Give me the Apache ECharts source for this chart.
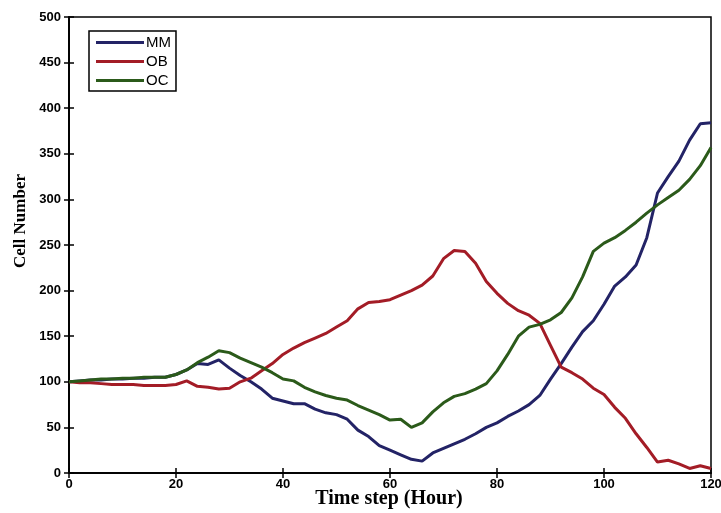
<!DOCTYPE html>
<html>
<head>
<meta charset="utf-8">
<script src="https://cdn.jsdelivr.net/npm/echarts@6/dist/echarts.min.js"></script>
<style>
  html, body { margin: 0; padding: 0; background: #fff; }
  #chart { width: 721px; height: 513px; }
</style>
</head>
<body>
<div id="chart"></div>
<script>
// time axis, every 2 hours
const hours = [0, 2, 4, 6, 8, 10, 12, 14, 16, 18, 20, 22, 24, 26, 28, 30, 32, 34, 36, 38,
  40, 42, 44, 46, 48, 50, 52, 54, 56, 58, 60, 62, 64, 66, 68, 70, 72, 74, 76, 78,
  80, 82, 84, 86, 88, 90, 92, 94, 96, 98, 100, 102, 104, 106, 108, 110, 112, 114, 116, 118, 120]

const mm = [100, 101, 102, 102, 103, 103, 104, 104, 105, 105, 108, 113, 120, 119, 124, 115, 107, 100, 92, 82,
  79, 76, 76, 70, 66, 64, 59, 47, 40, 30, 25, 20, 15, 13, 22, 27, 32, 37, 43, 50,
  55, 62, 68, 75, 85, 103, 120, 138, 155, 167, 185, 205, 215, 228, 258, 307, 325, 342, 365, 383, 384]

const ob = [100, 99, 99, 98, 97, 97, 97, 96, 96, 96, 97, 101, 95, 94, 92, 93, 100, 104, 112, 120,
  130, 137, 143, 148, 153, 160, 167, 180, 187, 188, 190, 195, 200, 206, 216, 235, 244, 243, 230, 210,
  197, 186, 178, 173, 164, 140, 116, 110, 103, 93, 86, 72, 60, 43, 28, 12, 14, 10, 5, 8, 5]

const oc = [100, 101, 102, 103, 103, 104, 104, 105, 105, 105, 108, 113, 121, 127, 134, 132, 126, 121, 116, 110,
  103, 101, 94, 89, 85, 82, 80, 74, 69, 64, 58, 59, 50, 55, 67, 77, 84, 87, 92, 98,
  112, 130, 150, 160, 163, 168, 176, 192, 215, 243, 252, 258, 266, 275, 285, 294, 302, 310, 322, 337, 357]

const seriesNames = ['MM', 'OB', 'OC']
const seriesColors = ['#232366', '#a31c26', '#2b5a1a']

const chart = echarts.init(document.getElementById('chart'))

const toPairs = (vals) => hours.map((h, i) => [h, vals[i]])

const tickLabel = {
  color: '#000',
  fontFamily: 'Liberation Sans',
  fontWeight: 'bold',
  fontSize: 13
}

const option = {
  animation: false,
  backgroundColor: '#fff',
  grid: {
    left: 69,
    right: 10,
    top: 17,
    bottom: 40,
    outerBoundsMode: 'none',
    show: true,
    borderColor: '#000',
    borderWidth: 1.5,
    backgroundColor: 'transparent'
  },
  legend: {
    data: seriesNames,
    orient: 'vertical',
    left: 89,
    top: 31,
    padding: [4, 5, 3, 7],
    itemGap: 4,
    itemWidth: 48,
    itemHeight: 3,
    icon: 'rect',
    borderColor: '#000',
    borderWidth: 1.5,
    backgroundColor: '#fff',
    textStyle: {
      color: '#000',
      fontFamily: 'Liberation Sans',
      fontSize: 15,
      padding: [0, 0, 0, -3]
    }
  },
  // both titles placed by hand, the y one sits above the grid middle
  graphic: [
    {
      type: 'text',
      x: 21,
      y: 221,
      rotation: Math.PI / 2,
      style: {
        text: 'Cell Number',
        fill: '#000',
        font: 'bold 17px "Liberation Serif"',
        align: 'center',
        verticalAlign: 'middle'
      }
    },
    {
      type: 'text',
      x: 389,
      y: 499,
      style: {
        text: 'Time step (Hour)',
        fill: '#000',
        font: 'bold 20px "Liberation Serif"',
        align: 'center',
        verticalAlign: 'middle'
      }
    }
  ],
  xAxis: [
    {
      type: 'value',
      min: 0,
      max: 120,
      interval: 20,
      axisLine: { show: true, lineStyle: { color: '#000', width: 1.5 } },
      axisTick: { show: true, inside: true, length: 5, lineStyle: { color: '#000', width: 1.5 } },
      axisLabel: Object.assign({ margin: 5 }, tickLabel),
      splitLine: { show: false }
    },
    {
      type: 'value',
      position: 'top',
      min: 0,
      max: 120,
      interval: 20,
      axisLine: { show: true, lineStyle: { color: '#000', width: 1.5 } },
      axisTick: { show: true, inside: true, length: 5, lineStyle: { color: '#000', width: 1.5 } },
      axisLabel: { show: false },
      splitLine: { show: false }
    }
  ],
  yAxis: [
    {
      type: 'value',
      min: 0,
      max: 500,
      interval: 50,
      axisLine: { show: true, lineStyle: { color: '#000', width: 1.5 } },
      axisTick: { show: true, inside: true, length: 5, lineStyle: { color: '#000', width: 1.5 } },
      axisLabel: Object.assign({ margin: 8 }, tickLabel),
      splitLine: { show: false }
    },
    {
      type: 'value',
      position: 'right',
      min: 0,
      max: 500,
      interval: 50,
      axisLine: { show: true, lineStyle: { color: '#000', width: 1.5 } },
      axisTick: { show: true, inside: true, length: 5, lineStyle: { color: '#000', width: 1.5 } },
      axisLabel: { show: false },
      splitLine: { show: false }
    }
  ],
  series: [mm, ob, oc].map((vals, i) => ({
    name: seriesNames[i],
    type: 'line',
    data: toPairs(vals),
    showSymbol: false,
    clip: true,
    color: seriesColors[i],
    lineStyle: { width: 3, color: seriesColors[i] }
  }))
}

chart.setOption(option)
</script>
</body>
</html>
